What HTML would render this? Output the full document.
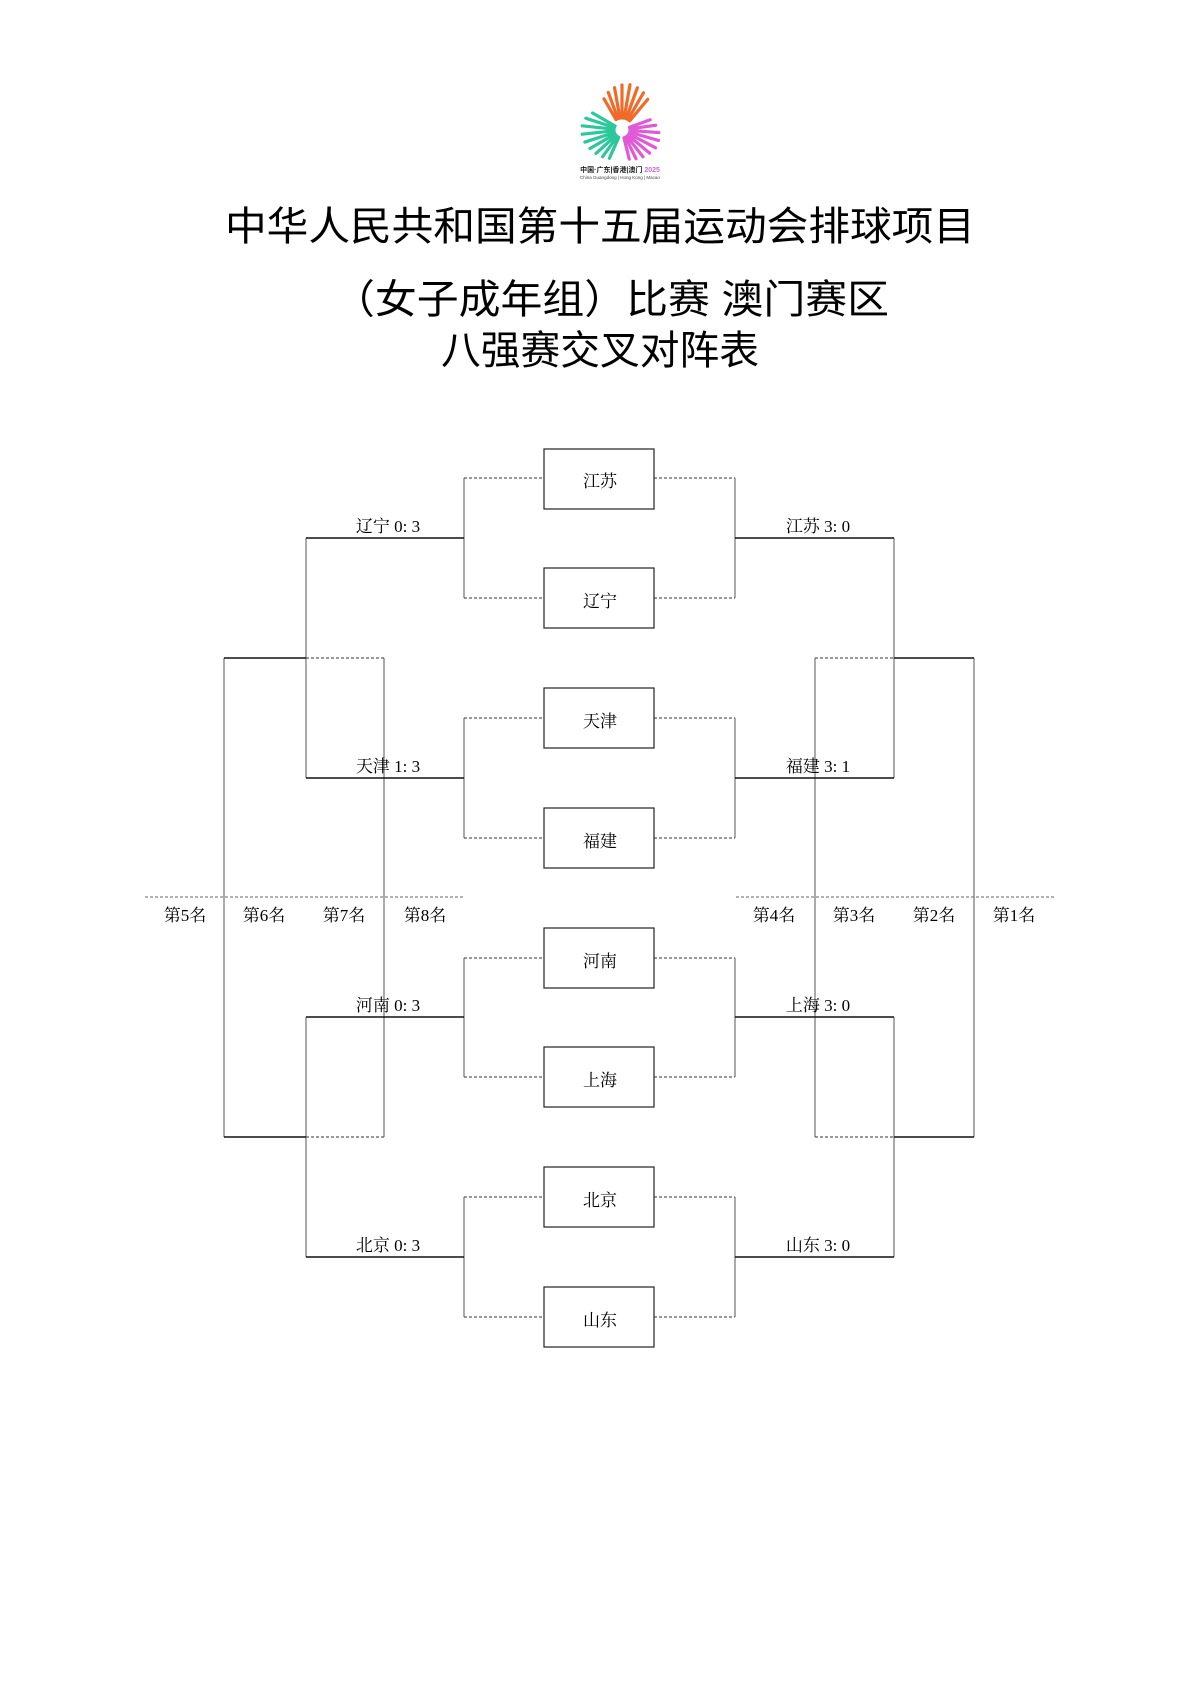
<!DOCTYPE html>
<html><head><meta charset="utf-8"><style>
html,body{margin:0;padding:0;background:#fff;}
svg{display:block;}
.t{font-family:"Liberation Sans","Noto Sans CJK SC",sans-serif;font-size:40px;fill:#000;}
.s{font-family:"Liberation Serif","Noto Serif CJK SC",serif;font-size:17px;fill:#000;}
</style></head><body>
<svg width="1200" height="1697" viewBox="0 0 1200 1697" xmlns="http://www.w3.org/2000/svg">
<rect width="1200" height="1697" fill="#fff"/>
<!-- logo -->
<g transform="translate(622,130)" stroke-width="3.2" stroke-linecap="round">
<g stroke="#f06a2a">
<line x1="12" y1="0" x2="40" y2="0" transform="rotate(-50)"/>
<line x1="12" y1="0" x2="43" y2="0" transform="rotate(-60)"/>
<line x1="12" y1="0" x2="45" y2="0" transform="rotate(-70)"/>
<line x1="12" y1="0" x2="46" y2="0" transform="rotate(-80)"/>
<line x1="12" y1="0" x2="45" y2="0" transform="rotate(-90)"/>
<line x1="12" y1="0" x2="43" y2="0" transform="rotate(-100)"/>
<line x1="12" y1="0" x2="40" y2="0" transform="rotate(-110)"/>
<line x1="12" y1="0" x2="36" y2="0" transform="rotate(-120)"/>
</g>
<g stroke="#2cc79a">
<line x1="8" y1="0" x2="34" y2="0" transform="rotate(-150)"/>
<line x1="8" y1="0" x2="38" y2="0" transform="rotate(-162)"/>
<line x1="8" y1="0" x2="40" y2="0" transform="rotate(-174)"/>
<line x1="8" y1="0" x2="40" y2="0" transform="rotate(174)"/>
<line x1="8" y1="0" x2="39" y2="0" transform="rotate(162)"/>
<line x1="8" y1="0" x2="37" y2="0" transform="rotate(150)"/>
<line x1="8" y1="0" x2="35" y2="0" transform="rotate(138)"/>
<line x1="8" y1="0" x2="33" y2="0" transform="rotate(126)"/>
<line x1="8" y1="0" x2="31" y2="0" transform="rotate(114)"/>
</g>
<g stroke="#e05ad8">
<line x1="8" y1="0" x2="30" y2="0" transform="rotate(-20)"/>
<line x1="8" y1="0" x2="34" y2="0" transform="rotate(-8)"/>
<line x1="8" y1="0" x2="37" y2="0" transform="rotate(4)"/>
<line x1="8" y1="0" x2="38" y2="0" transform="rotate(16)"/>
<line x1="8" y1="0" x2="38" y2="0" transform="rotate(28)"/>
<line x1="8" y1="0" x2="36" y2="0" transform="rotate(40)"/>
<line x1="8" y1="0" x2="34" y2="0" transform="rotate(52)"/>
<line x1="8" y1="0" x2="32" y2="0" transform="rotate(64)"/>
<line x1="8" y1="0" x2="30" y2="0" transform="rotate(76)"/>
</g>
</g>
<text x="620" y="172" text-anchor="middle" font-family="Liberation Sans,Noto Sans CJK SC,sans-serif" font-size="7" font-weight="bold" fill="#222">中国·广东|香港|澳门 <tspan fill="#c86ad8">2025</tspan></text>
<text x="620" y="179" text-anchor="middle" font-family="Liberation Sans,sans-serif" font-size="4.5" fill="#444">China Guangdong | Hong Kong | Macao</text>

<!-- title -->
<text class="t" x="600" y="240" text-anchor="middle" textLength="750" lengthAdjust="spacingAndGlyphs">中华人民共和国第十五届运动会排球项目</text>
<text class="t" x="611" y="313" text-anchor="middle" textLength="556" lengthAdjust="spacingAndGlyphs">（女子成年组）比赛  澳门赛区</text>
<text class="t" x="600" y="364" text-anchor="middle" textLength="318" lengthAdjust="spacingAndGlyphs">八强赛交叉对阵表</text>

<g fill="none" stroke="#333" stroke-width="1">
<g stroke-dasharray="3,2">
<path d="M464 478H544M464 598H544M464 718H544M464 838H544M464 958H544M464 1077H544M464 1197H544M464 1317H544"/>
<path d="M654 478H735M654 598H735M654 718H735M654 838H735M654 958H735M654 1077H735M654 1197H735M654 1317H735"/>
<path d="M306 658H384M306 1137H384M815 658H894M815 1137H894"/>
<path d="M145 897H465M736 897H1054" stroke="#666"/>
</g>
<path d="M464 478V598M464 718V838M464 958V1077M464 1197V1317" stroke="#555"/>
<path d="M735 478V598M735 718V838M735 958V1077M735 1197V1317" stroke="#555"/>
<path d="M306 538V778M306 1017V1257M894 538V778M894 1017V1257" stroke="#555"/>
<path d="M224 658V1137M384 658V1137M815 658V1137M974 658V1137" stroke="#555"/>
<path d="M306 538H464M306 778H464M306 1017H464M306 1257H464M735 538H894M735 778H894M735 1017H894M735 1257H894" stroke="#111" stroke-width="1.5"/>
<path d="M224 658H306M224 1137H306M894 658H974M894 1137H974" stroke="#111" stroke-width="1.5"/>
<g stroke="#222" stroke-width="1.2" fill="#fff">
<rect x="544" y="449" width="110" height="60"/>
<rect x="544" y="568" width="110" height="60"/>
<rect x="544" y="688" width="110" height="60"/>
<rect x="544" y="808" width="110" height="60"/>
<rect x="544" y="928" width="110" height="60"/>
<rect x="544" y="1047" width="110" height="60"/>
<rect x="544" y="1167" width="110" height="60"/>
<rect x="544" y="1287" width="110" height="60"/>
</g>
</g>

<g text-anchor="middle">
<text class="s" x="600" y="487">江苏</text>
<text class="s" x="600" y="607">辽宁</text>
<text class="s" x="600" y="727">天津</text>
<text class="s" x="600" y="847">福建</text>
<text class="s" x="600" y="967">河南</text>
<text class="s" x="600" y="1086">上海</text>
<text class="s" x="600" y="1206">北京</text>
<text class="s" x="600" y="1326">山东</text>

<text class="s" x="388" y="532">辽宁 0: 3</text>
<text class="s" x="388" y="772">天津 1: 3</text>
<text class="s" x="388" y="1011">河南 0: 3</text>
<text class="s" x="388" y="1251">北京 0: 3</text>
<text class="s" x="818" y="532">江苏 3: 0</text>
<text class="s" x="818" y="772">福建 3: 1</text>
<text class="s" x="818" y="1011">上海 3: 0</text>
<text class="s" x="818" y="1251">山东 3: 0</text>

<text class="s" x="185" y="921">第5名</text>
<text class="s" x="264" y="921">第6名</text>
<text class="s" x="344" y="921">第7名</text>
<text class="s" x="425" y="921">第8名</text>
<text class="s" x="774" y="921">第4名</text>
<text class="s" x="854" y="921">第3名</text>
<text class="s" x="934" y="921">第2名</text>
<text class="s" x="1014" y="921">第1名</text>
</g>
</svg>
</body></html>
